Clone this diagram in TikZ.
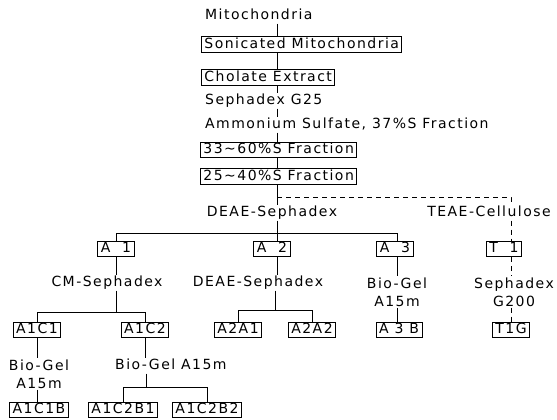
\documentclass[tikz,border=0pt]{standalone}
\usepackage{fontspec}
\setmainfont{DejaVu Sans}[LetterSpace=10.5]
\begin{document}
\begin{tikzpicture}[x=1pt,y=-1pt,
  every node/.style={font=\fontsize{14}{18}\selectfont, inner xsep=3pt, inner ysep=1pt},
  lbl/.style={text height=10pt,text depth=3pt},
  bx/.style={draw,line width=0.9pt,text height=10.5pt,text depth=3pt},
  two/.style={align=center},
  ln/.style={line width=0.8pt},
  dl/.style={line width=0.8pt,dash pattern=on 5pt off 4pt}]
\useasboundingbox (0,0) rectangle (557,420);
% spine
\node[lbl,anchor=west] (mito) at (202,16) {Mitochondria};
\node[bx,anchor=west] (son) at (201,44.5) {Sonicated Mitochondria};
\node[bx,anchor=west] (chol) at (201,77.5) {Cholate Extract};
\node[lbl,anchor=west] (g25) at (202,101) {Sephadex G25};
\node[lbl,anchor=west] (amm) at (202,125) {Ammonium Sulfate, 37\%S Fraction};
\node[bx,anchor=west] (f1) at (200,150) {33∼60\%S Fraction};
\node[bx,anchor=west] (f2) at (200,176.5) {25∼40\%S Fraction};
\coordinate (sx) at (277,0);
\coordinate (b) at (277,197);
\coordinate (bt) at (511,197);
\coordinate (h) at (277,233);
\node[lbl] (deae) at (272,213) {DEAE-Sephadex};
\node[lbl] (teae) at (489,213) {TEAE-Cellulose};
\draw[ln] (mito.south -| sx) -- (son.north -| sx);
\draw[ln] (son.south -| sx) -- (chol.north -| sx);
\draw[ln] (chol.south -| sx) -- (g25.north -| sx);
\draw[ln] (g25.south -| sx) -- (amm.north -| sx);
\draw[ln] (amm.south -| sx) -- (f1.north -| sx);
\draw[ln] (f1.south -| sx) -- (f2.north -| sx);
\draw[ln] (f2.south -| sx) -- (deae.north -| sx);
\draw[ln] (deae.south -| h) -- (h);
% level A
\node[bx] (A1) at (116,249) {A\ \ 1};
\node[bx] (A2) at (272,249) {A\ \ 2};
\node[bx] (A3) at (395,249) {A\ \ 3};
\node[bx] (T1) at (504,249) {T\ \ 1};
\coordinate (x3) at (397,0);
\draw[ln] (A1.north) -- (A1.north |- h) -- (h -| x3) -- (A3.north -| x3);
\draw[ln] (h) -- (A2.north -| h);
\draw[dl] (b) -- (bt) -- (teae.north -| bt);
\draw[dl] (teae.south -| bt) -- (T1.north -| bt);
% A1 branch
\node[lbl] (cm) at (107,283) {CM-Sephadex};
\draw[ln] (A1.south) -- (A1.south |- cm.north);
\coordinate (c1) at (116,312);
\draw[ln] (cm.south -| c1) -- (c1);
\node[bx] (A1C1) at (37,330) {A1C1};
\node[bx] (A1C2) at (145,330) {A1C2};
\draw[ln] (A1C1.north) -- (A1C1.north |- c1) -- (A1C2.north |- c1) -- (A1C2.north);
\node[two] (bg1) at (39,374) {Bio-Gel\\A15m};
\node[bx] (A1C1B) at (39,410) {A1C1B};
\draw[ln] (A1C1.south) -- (A1C1.south |- bg1.north);
\draw[ln] (bg1.south -| A1C1) -- (A1C1B.north -| A1C1);
\node[lbl,anchor=west] (bg2) at (112,366) {Bio-Gel A15m};
\draw[ln] (A1C2.south) -- (A1C2.south |- bg2.north);
\coordinate (c2) at (146,387);
\draw[ln] (bg2.south -| c2) -- (c2);
\node[bx] (B1) at (123,410) {A1C2B1};
\node[bx] (B2) at (207,410) {A1C2B2};
\draw[ln] (B1.north) -- (B1.north |- c2) -- (B2.north |- c2) -- (B2.north);
% A2 branch
\node[lbl] (deae2) at (258,283) {DEAE-Sephadex};
\draw[ln] (A2.south -| h) -- (deae2.north -| h);
\coordinate (c3) at (275,310);
\draw[ln] (deae2.south -| c3) -- (c3);
\node[bx] (A2A1) at (238,330) {A2A1};
\node[bx] (A2A2) at (312,330) {A2A2};
\draw[ln] (A2A1.north) -- (A2A1.north |- c3) -- (A2A2.north |- c3) -- (A2A2.north);
% A3 branch
\node[two] (bg3) at (397,292) {Bio-Gel\\A15m};
\node[bx] (A3B) at (399,330) {A\ 3\ B};
\draw[ln] (A3.south -| x3) -- (bg3.north -| x3);
\draw[ln] (bg3.south -| x3) -- (A3B.north -| x3);
% T1 branch
\node[two] (sg) at (514,292) {Sephadex\\G200};
\node[bx] (T1G) at (511,330) {T1G};
\draw[dl] (T1.south -| bt) -- (sg.north -| bt);
\draw[dl] (sg.south -| bt) -- (T1G.north -| bt);
\end{tikzpicture}
\end{document}
